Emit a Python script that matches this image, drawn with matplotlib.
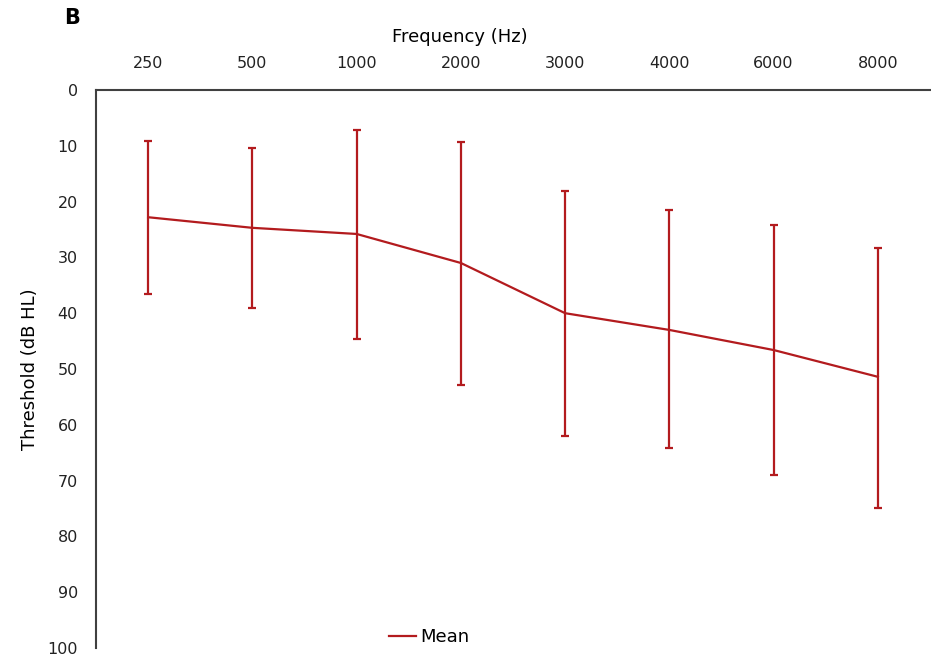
import numpy as np
import matplotlib.pyplot as plt
from matplotlib.lines import Line2D

# audiometric thresholds
freqs = ['250', '500', '1000', '2000', '3000', '4000', '6000', '8000']
mean_db = [22.8, 24.7, 25.8, 31.0, 40.0, 43.0, 46.6, 51.4]
err_top = [9.1, 10.4, 7.2, 9.3, 18.1, 21.5, 24.2, 28.3]
err_bottom = [36.6, 39.1, 44.6, 52.9, 62.0, 64.2, 69.0, 74.9]

RED = '#B31B1E'

mean = np.array(mean_db)
yerr = [mean - np.array(err_top), np.array(err_bottom) - mean]
x = np.arange(len(freqs))

fig = plt.figure(figsize=(9.31, 6.60), dpi=100)
ax = fig.add_axes([96 / 931, 12 / 660, 834 / 931, 558 / 660])

ax.errorbar(x, mean, yerr=yerr, color=RED, lw=1.6, elinewidth=1.6,
            capsize=3, capthick=1.6)

ax.set_xlim(-0.5, len(freqs) - 0.5)
ax.set_ylim(100, 0)
ax.set_yticks(np.arange(0, 101, 10))
ax.set_xticks(x)
ax.set_xticklabels(freqs)
ax.xaxis.tick_top()
ax.xaxis.set_label_position('top')
ax.tick_params(axis='both', length=0, labelsize=11.5, colors='#222222')
ax.tick_params(axis='x', pad=14)
ax.tick_params(axis='y', pad=13)
ax.set_xlabel('Frequency (Hz)', fontsize=13)
ax.xaxis.set_label_coords((460 - 96) / 834, 1 + (90 - 42) / 558)
ax.set_ylabel('Threshold (dB HL)', fontsize=13)
ax.yaxis.set_label_coords(-(96 - 39) / 834, 0.5)

for side in ['right', 'bottom']:
    ax.spines[side].set_visible(False)
for side in ['left', 'top']:
    ax.spines[side].set_color('#404040')
    ax.spines[side].set_linewidth(1.5)

handle = Line2D([], [], color=RED, lw=1.6)
fig.legend([handle], ['Mean'], loc='center', bbox_to_anchor=(429 / 931, 1 - 637 / 660),
           frameon=False, fontsize=13, handlelength=1.5, handletextpad=0.2)

fig.text(64 / 931, 1 - 18 / 660, 'B', fontsize=15, fontweight='bold', va='center')

fig.savefig('out.png', dpi=100)
